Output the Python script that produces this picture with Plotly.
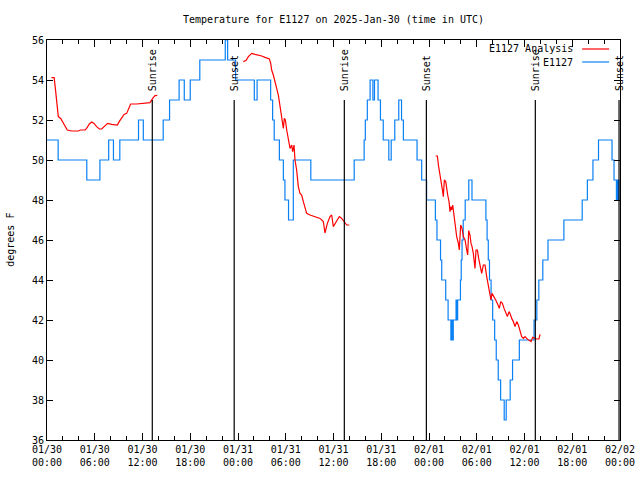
import pandas as pd
import plotly.graph_objects as go

BASE = "2025-01-30 00:00"

# Observed E1127 temperature (step changes): hours since BASE, degrees F
obs_hours = [0, 1.4, 5.0, 6.65, 7.75, 8.35, 9.15, 11.5, 12.1, 14.6, 15.4, 16.6, 17.25, 18.0, 19.2,
             22.4, 22.7, 23.7, 26.05, 26.4, 28.1, 28.35, 28.55, 29.2, 29.7, 29.9, 30.35, 30.95, 33.15,
             38.6, 39.85, 40.0, 40.25, 40.6, 40.95, 41.15, 41.6, 41.9, 42.25, 42.95, 43.25, 43.7, 44.2,
             44.55, 44.78, 46.5, 47.08, 47.7, 48.8, 49.0, 49.45, 49.6, 50.1, 50.4, 50.75, 50.85, 50.95,
             51.05, 51.4, 51.5, 51.6, 51.95, 52.05, 52.15, 52.3, 52.55, 53.0, 53.4, 55.15, 55.3, 55.45,
             55.6, 55.8, 56.0, 56.25, 56.45, 56.7, 57.0, 57.45, 57.7, 58.2, 58.5, 59.35, 61.2, 61.55,
             61.8, 62.3, 62.95, 64.95, 67.25, 67.9, 68.6, 69.3, 71.0, 71.25, 71.55, 71.7, 71.85, 72.0]
obs_temps = [51, 50, 49, 50, 51, 50, 51, 52, 51, 52, 53, 54, 53, 54, 55,
             56, 55, 54, 53, 54, 53, 52, 51, 50, 49, 48, 47, 50, 49,
             50, 51, 52, 53, 54, 53, 54, 53, 52, 51, 50, 51, 52, 53,
             52, 51, 50, 49, 48, 47, 46, 45, 44, 43, 42, 41, 42, 41,
             42, 43, 42, 43, 44, 45, 46, 47, 48, 49, 48, 47, 46, 45,
             44, 43, 42, 41, 40, 39, 38, 37, 38, 39, 40, 41, 42, 43,
             44, 45, 46, 47, 48, 49, 50, 51, 50, 49, 48, 49, 48, 48]

# E1127 Analysis, three separate pieces
ana1_hours = [0.55, 0.9, 1.05, 1.21, 1.42, 1.72, 1.97, 2.26, 2.55, 3.1, 3.94, 4.2, 4.78, 4.98, 5.32,
              5.61, 5.91, 6.24, 6.58, 6.87, 7.29, 7.62, 8.13, 8.84, 9.09, 9.38, 9.68, 10.01, 10.22,
              10.51, 11.27, 12.31, 12.94, 13.28, 13.57, 13.86]
ana1_temps = [54.12, 54.12, 53.58, 52.92, 52.17, 52.08, 51.92, 51.67, 51.5, 51.45, 51.45, 51.5, 51.5,
              51.58, 51.8, 51.9, 51.83, 51.67, 51.55, 51.55, 51.72, 51.83, 51.78, 51.75, 51.93, 52.13,
              52.28, 52.33, 52.5, 52.8, 52.8, 52.83, 52.87, 53.08, 53.22, 53.23]

ana2_hours = [24.67, 25.0, 25.3, 25.72, 26.14, 26.56, 26.98, 27.39, 27.94, 28.11, 28.23, 28.44, 28.65,
              28.86, 29.07, 29.28, 29.49, 29.7, 29.82, 29.95, 30.12, 30.33, 30.54, 30.75, 30.87, 31.04,
              31.16, 31.37, 31.58, 31.79, 32.0, 32.21, 32.42, 32.63, 33.05, 33.68, 34.31, 34.72, 34.93,
              35.23, 35.56, 35.77, 35.98, 36.32, 36.73, 37.03, 37.32, 37.66, 37.99]
ana2_temps = [54.92, 54.97, 55.17, 55.33, 55.28, 55.25, 55.2, 55.13, 55.05, 54.83, 54.5, 54.25, 53.83,
              53.58, 53.25, 52.75, 52.08, 51.58, 52.08, 52.0, 51.5, 51.08, 50.58, 50.75, 50.42, 50.75,
              50.0, 49.5, 48.67, 48.33, 48.25, 47.92, 47.67, 47.33, 47.25, 47.17, 47.08, 46.92, 46.35,
              46.83, 47.17, 47.25, 46.67, 46.9, 47.17, 47.08, 46.92, 46.75, 46.75]

ana3_hours = [48.84, 49.05, 49.18, 49.38, 49.59, 49.72, 49.8, 49.93, 50.1, 50.22, 50.35, 50.52, 50.64,
              50.77, 50.85, 50.98, 51.14, 51.27, 51.48, 51.69, 51.81, 51.98, 52.15, 52.32, 52.53, 52.74,
              52.86, 52.99, 53.15, 53.28, 53.41, 53.57, 53.78, 53.91, 54.08, 54.24, 54.41, 54.62, 54.83,
              55.04, 55.25, 55.46, 55.67, 55.79, 55.92, 56.17, 56.38, 56.59, 56.84, 57.01, 57.22, 57.43,
              57.64, 57.85, 58.06, 58.18, 58.39, 58.6, 58.81, 59.02, 59.23, 59.44, 59.65, 59.86, 60.07,
              60.4, 60.69, 60.82, 61.03, 61.24, 61.53, 61.82, 61.95]
ana3_temps = [50.2, 50.2, 49.75, 49.33, 48.83, 48.42, 48.17, 49.0, 48.92, 48.5, 48.25, 47.92, 47.42,
              47.67, 47.5, 47.75, 47.17, 46.92, 46.17, 45.83, 45.5, 46.75, 46.58, 46.17, 46.0, 45.5,
              45.25, 46.47, 46.25, 45.83, 45.67, 45.33, 44.58, 45.5, 45.5, 45.08, 44.75, 44.33, 44.75,
              44.75, 44.17, 43.67, 43.17, 43.0, 43.33, 43.17, 43.0, 42.83, 42.58, 42.92, 42.83, 42.58,
              42.33, 42.17, 42.42, 42.33, 42.08, 41.92, 41.67, 41.92, 41.75, 41.42, 41.17, 41.08, 41.17,
              41.03, 40.92, 40.92, 41.13, 41.08, 41.05, 41.05, 41.28]

sun_hours = [13.23, 23.52, 37.36, 47.67, 61.36, 71.88]
sun_labels = ["Sunrise", "Sunset", "Sunrise", "Sunset", "Sunrise", "Sunset"]

y_ticks = [36, 38, 40, 42, 44, 46, 48, 50, 52, 54, 56]

base = pd.Timestamp(BASE)


def to_time(hours):
    return [base + pd.Timedelta(hours=h) for h in hours]


ana_x, ana_y = [], []
for hh, tt in [(ana1_hours, ana1_temps), (ana2_hours, ana2_temps), (ana3_hours, ana3_temps)]:
    ana_x += to_time(hh) + [None]
    ana_y += list(tt) + [None]

FONT = "DejaVu Sans Mono"
RED = "#ff0000"
BLUE = "#0a80f5"

fig = go.Figure()
fig.add_trace(go.Scatter(x=to_time(obs_hours), y=obs_temps, mode="lines", name="E1127",
                         line=dict(color=BLUE, width=1.2, shape="hv"), showlegend=False))
fig.add_trace(go.Scatter(x=ana_x, y=ana_y, mode="lines", name="E1127 Analysis",
                         line=dict(color=RED, width=1.2), connectgaps=False, showlegend=False))

for h, lab in zip(sun_hours, sun_labels):
    t = base + pd.Timedelta(hours=h)
    fig.add_shape(type="line", xref="x", yref="y", x0=t, x1=t, y0=36, y1=53,
                  line=dict(color="black", width=1.2))
    fig.add_annotation(x=t, y=53.35, xref="x", yref="y", text=lab, textangle=-90,
                       showarrow=False, xanchor="center", yanchor="bottom",
                       font=dict(family=FONT, size=10, color="black"))

# gnuplot-style key: text right-aligned, line sample to the right
for name, color, py in [("E1127 Analysis", RED, 0.9775), ("E1127", BLUE, 0.945)]:
    fig.add_annotation(x=0.921, y=py, xref="paper", yref="paper", text=name, showarrow=False,
                       xanchor="right", yanchor="middle",
                       font=dict(family=FONT, size=10, color="black"))
    fig.add_shape(type="line", xref="paper", yref="paper", x0=0.934, x1=0.981, y0=py, y1=py,
                  line=dict(color=color, width=1.2))

fig.add_annotation(x=-0.065, y=0.5, xref="paper", yref="paper", text="degrees F", textangle=-90,
                   showarrow=False, xanchor="center", yanchor="middle",
                   font=dict(family=FONT, size=10, color="black"))

fig.update_layout(
    width=640, height=480,
    margin=dict(l=47, r=20, t=40, b=40),
    paper_bgcolor="white", plot_bgcolor="white",
    font=dict(family=FONT, size=10, color="black"),
    title=dict(text="Temperature for E1127 on 2025-Jan-30 (time in UTC)", x=0.5, xref="paper",
               xanchor="center", y=1 - 19 / 480, yref="container", yanchor="middle",
               font=dict(family=FONT, size=10, color="black")),
    showlegend=False,
)
fig.update_xaxes(
    type="date", automargin=False,
    range=[base, base + pd.Timedelta(hours=72)],
    dtick=6 * 3600 * 1000, tick0=base, tickformat="%m/%d<br>%H:%M",
    ticks="inside", ticklen=7, tickcolor="black",
    minor=dict(dtick=2 * 3600 * 1000, ticks="inside", ticklen=4, tickcolor="black", showgrid=False),
    showline=True, linecolor="black", linewidth=1, mirror="ticks",
    showgrid=False, zeroline=False,
    tickfont=dict(family=FONT, size=10, color="black"),
)
fig.update_yaxes(
    range=[36, 56], tickvals=y_ticks, automargin=False,
    ticks="inside", ticklen=6, tickcolor="black",
    showline=True, linecolor="black", linewidth=1, mirror="ticks",
    showgrid=False, zeroline=False,
    tickfont=dict(family=FONT, size=10, color="black"),
)

fig.write_html("out.html", config={"displayModeBar": False},
               post_script="document.body.style.margin='0';")
